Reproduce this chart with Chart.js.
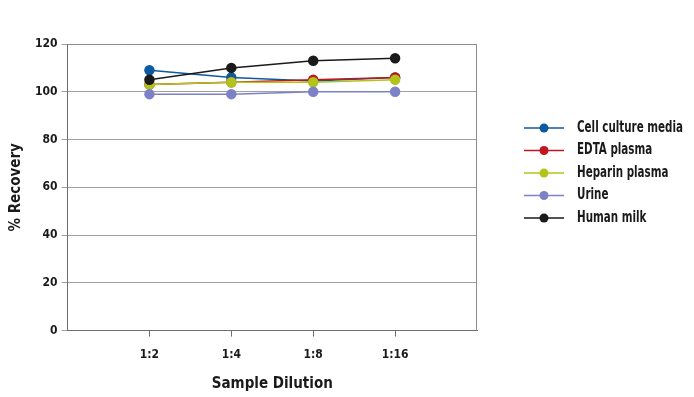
<!DOCTYPE html>
<html>
<head>
<meta charset="utf-8">
<script src="https://cdn.jsdelivr.net/npm/chart.js@4"></script>
<style>
  html, body { margin: 0; padding: 0; background: #fff; }
  #wrap { width: 694px; height: 397px; position: relative; }
</style>
</head>
<body>
<div id="wrap"><canvas id="chart"></canvas></div>
<script>
(function () {
  var dilutions = ['1:2', '1:4', '1:8', '1:16'];
  var seriesNames = ['Cell culture media', 'EDTA plasma', 'Heparin plasma', 'Urine', 'Human milk'];
  var cellCulture = [109, 106, 104.5, 106];
  var edtaPlasma = [103, 104, 105, 106];
  var heparinPlasma = [103, 104, 104, 105];
  var urine = [99, 99, 100, 100];
  var humanMilk = [105, 110, 113, 114];
  var yTicks = [0, 20, 40, 60, 80, 100, 120];

  var colors = ['#0d5aa0', '#c0161c', '#b2c31c', '#7d82c6', '#1a1a1a'];
  var values = [cellCulture, edtaPlasma, heparinPlasma, urine, humanMilk];
  var FONT = "'DejaVu Sans Condensed', 'Liberation Sans Narrow', sans-serif";

  function toPoints(arr) {
    return arr.map(function (v, i) { return { x: i + 1, y: v }; });
  }

  var datasets = seriesNames.map(function (name, i) {
    return {
      label: name,
      data: toPoints(values[i]),
      borderColor: colors[i],
      backgroundColor: colors[i],
      pointBackgroundColor: colors[i],
      pointBorderColor: colors[i],
      borderWidth: 1.5,
      pointRadius: 4.5,
      pointHoverRadius: 4.5,
      order: seriesNames.length - i
    };
  });

  // plot frame + legend with line and marker (text squeezed to look condensed)
  var extras = {
    id: 'extras',
    afterDraw: function (chart) {
      var ctx = chart.ctx;
      var a = chart.chartArea;
      ctx.save();
      ctx.strokeStyle = '#8c8c8c';
      ctx.lineWidth = 1;
      ctx.beginPath();
      ctx.moveTo(a.left, a.top + 0.5);
      ctx.lineTo(a.right - 0.5, a.top + 0.5);
      ctx.lineTo(a.right - 0.5, a.bottom);
      ctx.stroke();

      var x0 = 524, y0 = 128, gap = 22.5;
      ctx.font = 'bold 15px ' + FONT;
      ctx.textBaseline = 'middle';
      var sx = 106 / ctx.measureText(seriesNames[0]).width;
      chart.data.datasets.forEach(function (ds, i) {
        var y = y0 + i * gap;
        ctx.strokeStyle = ds.borderColor;
        ctx.lineWidth = 1.5;
        ctx.beginPath();
        ctx.moveTo(x0, y);
        ctx.lineTo(x0 + 40, y);
        ctx.stroke();
        ctx.fillStyle = ds.borderColor;
        ctx.beginPath();
        ctx.arc(x0 + 20, y, 4.5, 0, Math.PI * 2);
        ctx.fill();
        ctx.fillStyle = '#1a1a1a';
        ctx.save();
        ctx.translate(x0 + 53, y);
        ctx.scale(sx, 1);
        ctx.fillText(ds.label, 0, 0);
        ctx.restore();
      });
      ctx.restore();
    }
  };

  new Chart(document.getElementById('chart'), {
    type: 'line',
    data: { datasets: datasets },
    plugins: [extras],
    options: {
      responsive: true,
      maintainAspectRatio: false,
      animation: false,
      layout: { padding: { top: 44, right: 217, left: 3, bottom: 4 } },
      plugins: {
        legend: { display: false },
        tooltip: { enabled: false }
      },
      scales: {
        x: {
          type: 'linear',
          min: 0,
          max: 5,
          afterBuildTicks: function (axis) {
            axis.ticks = [0, 1, 2, 3, 4, 5].map(function (v) { return { value: v }; });
          },
          grid: {
            drawOnChartArea: false,
            tickLength: 6,
            color: function (c) {
              return (c.tick && (c.tick.value === 0 || c.tick.value === 5)) ? 'rgba(0,0,0,0)' : '#6e6e6e';
            }
          },
          border: { color: '#6e6e6e', width: 1 },
          ticks: {
            color: '#1a1a1a',
            padding: 11,
            font: { family: FONT, size: 12, weight: 'bold' },
            callback: function (v) { return dilutions[v - 1] || ''; }
          },
          title: {
            display: true,
            text: 'Sample Dilution',
            color: '#1a1a1a',
            padding: { top: 2, bottom: 0 },
            font: { family: FONT, size: 15, weight: 'bold' }
          }
        },
        y: {
          min: 0,
          max: 120,
          afterBuildTicks: function (axis) {
            axis.ticks = yTicks.map(function (v) { return { value: v }; });
          },
          grid: { color: '#a0a0a0', tickLength: 6, lineWidth: 1 },
          border: { color: '#6e6e6e', width: 1 },
          ticks: {
            color: '#1a1a1a',
            padding: 4,
            font: { family: FONT, size: 12, weight: 'bold' }
          },
          title: {
            display: true,
            text: '% Recovery',
            color: '#1a1a1a',
            padding: { bottom: 6 },
            font: { family: FONT, size: 15, weight: 'bold' }
          }
        }
      }
    }
  });
})();
</script>
</body>
</html>
